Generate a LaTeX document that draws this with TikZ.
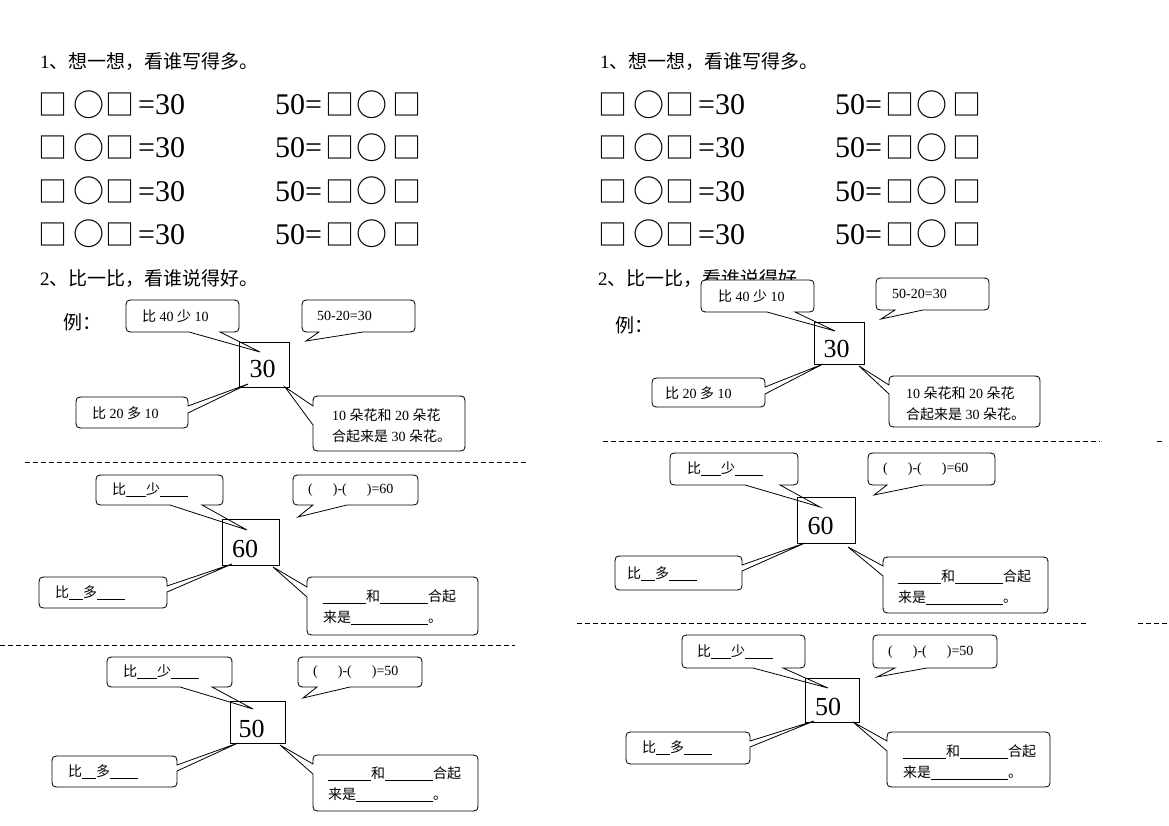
\documentclass[tikz,border=0pt]{standalone}
\usepackage{fontspec}
\setmainfont{Liberation Serif}
\newfontfamily\cjk{Noto Sans CJK SC}
\newcommand\blank[1]{\rule[-2pt]{#1pt}{0.8pt}}
% bubble with tail on bottom edge: x1,y1,x2,y2,bx1,bx2,tip
\newcommand\bubB[7]{\draw[bubble] ({#1+9},#2) -- ({#3-9},#2) .. controls (#3,#2) .. (#3,{#2+9}) -- (#3,{#4-9}) .. controls (#3,#4) .. ({#3-9},#4) -- (#6,#4) -- (#7) -- (#5,#4) -- ({#1+9},#4) .. controls (#1,#4) .. (#1,{#4-9}) -- (#1,{#2+9}) .. controls (#1,#2) .. ({#1+9},#2) -- cycle;}
% bubble with tail on right edge: x1,y1,x2,y2,by1,by2,tip
\newcommand\bubR[7]{\draw[bubble] ({#1+9},#2) -- ({#3-9},#2) .. controls (#3,#2) .. (#3,{#2+9}) -- (#3,#5) -- (#7) -- (#3,#6) -- (#3,{#4-9}) .. controls (#3,#4) .. ({#3-9},#4) -- ({#1+9},#4) .. controls (#1,#4) .. (#1,{#4-9}) -- (#1,{#2+9}) .. controls (#1,#2) .. ({#1+9},#2) -- cycle;}
% bubble with tail on left edge: x1,y1,x2,y2,by1,by2,tip
\newcommand\bubL[7]{\draw[bubble] ({#1+9},#2) -- ({#3-9},#2) .. controls (#3,#2) .. (#3,{#2+9}) -- (#3,{#4-9}) .. controls (#3,#4) .. ({#3-9},#4) -- ({#1+9},#4) .. controls (#1,#4) .. (#1,{#4-9}) -- (#1,#6) -- (#7) -- (#1,#5) -- (#1,{#2+9}) .. controls (#1,#2) .. ({#1+9},#2) -- cycle;}
\tikzset{
  bubble/.style={draw=black, fill=white, line width=0.8pt},
  numbox/.style={draw=black, line width=0.8pt, inner sep=0pt},
  numtxt/.style={inner sep=0pt, font=\fontsize{26}{26}\selectfont},
  btxt/.style={anchor=west, inner sep=0pt, font=\fontsize{14}{16}\selectfont},
  btxtb/.style={anchor=west, inner sep=0pt, align=left, font=\fontsize{14}{21}\selectfont},
  head/.style={anchor=west, inner sep=0pt, font=\fontsize{19}{19}\selectfont},
  big/.style={anchor=base west, inner sep=0pt, font=\fontsize{30}{30}\selectfont},
  symsq/.style={inner sep=0pt, font=\cjk\fontsize{29}{29}\selectfont},
  symci/.style={inner sep=0pt, font=\cjk\fontsize{31}{31}\selectfont},
  sep/.style={dash pattern=on 5pt off 3pt, line width=0.8pt}
}
\begin{document}
\begin{tikzpicture}[x=1pt,y=-1pt]
\fill[white] (0,0) rectangle (1169,826);
\useasboundingbox (0,0) rectangle (1169,826);

% ---------- part 1 ----------
\node[head] (h1L) at (40,62) {1{\cjk 、想一想，看谁写得多。}};
\node[head] (h1R) at (600,62) {1{\cjk 、想一想，看谁写得多。}};
\foreach \y/\i in {104.5/1,147.5/2,191/3,234/4}{
  \foreach \dx/\h in {0/L,560/R}{
    \node[symsq] (sa\h\i) at ({53+\dx},\y) {□};
    \node[symci] (ca\h\i) at ({88.5+\dx},\y) {○};
    \node[symsq] (sb\h\i) at ({120+\dx},\y) {□};
    \node[big] (ea\h\i) at ({138+\dx},{\y+10.5}) {=30};
    \node[big] (fa\h\i) at ({275+\dx},{\y+10.5}) {50=};
    \node[symsq] (sc\h\i) at ({339.5+\dx},\y) {□};
    \node[symci] (cb\h\i) at ({372+\dx},\y) {○};
    \node[symsq] (sd\h\i) at ({406.5+\dx},\y) {□};
  }
}

% ---------- part 2 headings ----------
\node[head] (h2L) at (40,279) {2{\cjk 、比一比，看谁说得好。}};
\node[head] (h2R) at (598,279) {2{\cjk 、比一比，看谁说得好。}};
\node[head] (exL) at (63,322) {\cjk 例：};
\node[head] (exR) at (615,325) {\cjk 例：};

% ---------- dashed separators ----------
\coordinate (d1a) at (25,462);  \coordinate (d1b) at (527,462);
\coordinate (d2a) at (0,645);   \coordinate (d2b) at (515,645);
\coordinate (d3a) at (603,441); \coordinate (d3b) at (1100,441);
\coordinate (d4a) at (1157,441); \coordinate (d4b) at (1163,441);
\coordinate (d5a) at (577,623); \coordinate (d5b) at (1088,623);
\coordinate (d6a) at (1138,623); \coordinate (d6b) at (1169,623);
\draw[sep] (d1a) -- (d1b);
\draw[sep] (d2a) -- (d2b);
\draw[sep] (d3a) -- (d3b);
\draw[sep] (d4a) -- (d4b);
\draw[sep] (d5a) -- (d5b);
\draw[sep] (d6a) -- (d6b);

% ---------- tips ----------
\coordinate (pA1) at (260,352); \coordinate (pB1) at (306,341);
\coordinate (pC1) at (248,384); \coordinate (pD1) at (285,387);
\coordinate (pA2) at (247,530); \coordinate (pB2) at (298,517);
\coordinate (pC2) at (232,564); \coordinate (pD2) at (273,567);
\coordinate (pA3) at (253,709); \coordinate (pB3) at (303,698);
\coordinate (pC3) at (238,743); \coordinate (pD3) at (280,745);
\coordinate (pA4) at (835,331); \coordinate (pB4) at (881,319);
\coordinate (pC4) at (823,364); \coordinate (pD4) at (859,366);
\coordinate (pA5) at (820,507); \coordinate (pB5) at (874,495);
\coordinate (pC5) at (805,543); \coordinate (pD5) at (848,547);
\coordinate (pA6) at (828,688); \coordinate (pB6) at (877,677);
\coordinate (pC6) at (814,721); \coordinate (pD6) at (853,722);

% ---------- bubbles ----------
\bubB{126}{300}{239}{332}{189}{220}{pA1}
\bubB{302}{300}{415}{332}{319}{363}{pB1}
\bubR{76}{397}{188}{428}{406}{413}{pC1}
\bubL{313}{396}{465}{451}{406}{425}{pD1}

\bubB{96}{475}{223}{505}{170}{202}{pA2}
\bubB{293}{475}{418}{505}{313}{347}{pB2}
\bubR{39}{577}{167}{608}{586}{592}{pC2}
\bubL{307}{577}{478}{635}{587}{597}{pD2}

\bubB{107}{657}{232}{687}{180}{212}{pA3}
\bubB{298}{657}{422}{687}{317}{350}{pB3}
\bubR{52}{756}{177}{787}{765}{771}{pC3}
\bubL{313}{755}{478}{811}{764}{774}{pD3}

\bubB{701}{280}{814}{312}{767}{795}{pA4}
\bubB{876}{278}{989}{310}{895}{923}{pB4}
\bubR{652}{378}{765}{407}{387}{394}{pC4}
\bubL{889}{376}{1040}{427}{385}{394}{pD4}

\bubB{670}{453}{798}{485}{745}{780}{pA5}
\bubB{868}{453}{995}{485}{887}{923}{pB5}
\bubR{615}{556}{742}{590}{565}{571}{pC5}
\bubL{883}{557}{1048}{613}{566}{576}{pD5}

\bubB{682}{635}{805}{668}{753}{783}{pA6}
\bubB{873}{635}{997}{668}{895}{927}{pB6}
\bubR{626}{732}{750}{764}{741}{747}{pC6}
\bubL{887}{732}{1050}{787}{741}{751}{pD6}

% ---------- number boxes ----------
\node[numbox, minimum width=50, minimum height=45] (n1) at (264,364.5) {};
\node[numbox, minimum width=57, minimum height=46] (n2) at (250.5,542) {};
\node[numbox, minimum width=55, minimum height=42] (n3) at (257.5,722) {};
\node[numbox, minimum width=50, minimum height=42] (n4) at (839,343) {};
\node[numbox, minimum width=58, minimum height=46] (n5) at (826,520) {};
\node[numbox, minimum width=54, minimum height=44] (n6) at (832,700) {};
\node[numtxt] (m1) at (262.5,369) {30};
\node[numtxt] (m2) at (245,548.5) {60};
\node[numtxt] (m3) at (251.5,728.5) {50};
\node[numtxt] (m4) at (836.5,348.5) {30};
\node[numtxt] (m5) at (820.5,526) {60};
\node[numtxt] (m6) at (828,706.5) {50};

% ---------- bubble texts ----------
\node[btxt] (tA1) at (142,316) {{\cjk 比} 40 {\cjk 少} 10};
\node[btxt] (tB1) at (317,316) {50-20=30};
\node[btxt] (tC1) at (92,413) {{\cjk 比} 20 {\cjk 多} 10};
\node[btxtb] (tD1) at (332,426) {10 {\cjk 朵花和} 20 {\cjk 朵花}\\{\cjk 合起来是} 30 {\cjk 朵花。}};

\node[btxt] (tA4) at (718,296) {{\cjk 比} 40 {\cjk 少} 10};
\node[btxt] (tB4) at (892,294) {50-20=30};
\node[btxt] (tC4) at (665,393) {{\cjk 比} 20 {\cjk 多} 10};
\node[btxtb] (tD4) at (906,404) {10 {\cjk 朵花和} 20 {\cjk 朵花}\\{\cjk 合起来是} 30 {\cjk 朵花。}};

\node[btxt] (tA2) at (112,490) {{\cjk 比}\blank{20}{\cjk 少}\blank{28}};
\node[btxt] (tB2) at (308,490) {(\hspace{20pt})-(\hspace{20pt})=60};
\node[btxt] (tC2) at (55,593) {{\cjk 比}\blank{14}{\cjk 多}\blank{28}};
\node[btxtb] (tD2) at (323,607) {\blank{43}{\cjk 和}\blank{48}{\cjk 合起}\\{\cjk 来是}\blank{77}{\cjk 。}};

\node[btxt] (tA3) at (123,672) {{\cjk 比}\blank{20}{\cjk 少}\blank{28}};
\node[btxt] (tB3) at (313,672) {(\hspace{20pt})-(\hspace{20pt})=50};
\node[btxt] (tC3) at (68,772) {{\cjk 比}\blank{14}{\cjk 多}\blank{28}};
\node[btxtb] (tD3) at (328,784) {\blank{43}{\cjk 和}\blank{48}{\cjk 合起}\\{\cjk 来是}\blank{77}{\cjk 。}};

\node[btxt] (tA5) at (687,469) {{\cjk 比}\blank{20}{\cjk 少}\blank{28}};
\node[btxt] (tB5) at (883,469) {(\hspace{20pt})-(\hspace{20pt})=60};
\node[btxt] (tC5) at (627,574) {{\cjk 比}\blank{14}{\cjk 多}\blank{28}};
\node[btxtb] (tD5) at (898,587) {\blank{43}{\cjk 和}\blank{48}{\cjk 合起}\\{\cjk 来是}\blank{77}{\cjk 。}};

\node[btxt] (tA6) at (697,652) {{\cjk 比}\blank{20}{\cjk 少}\blank{28}};
\node[btxt] (tB6) at (888,652) {(\hspace{20pt})-(\hspace{20pt})=50};
\node[btxt] (tC6) at (642,748) {{\cjk 比}\blank{14}{\cjk 多}\blank{28}};
\node[btxtb] (tD6) at (903,762) {\blank{43}{\cjk 和}\blank{48}{\cjk 合起}\\{\cjk 来是}\blank{77}{\cjk 。}};
\end{tikzpicture}
\end{document}
